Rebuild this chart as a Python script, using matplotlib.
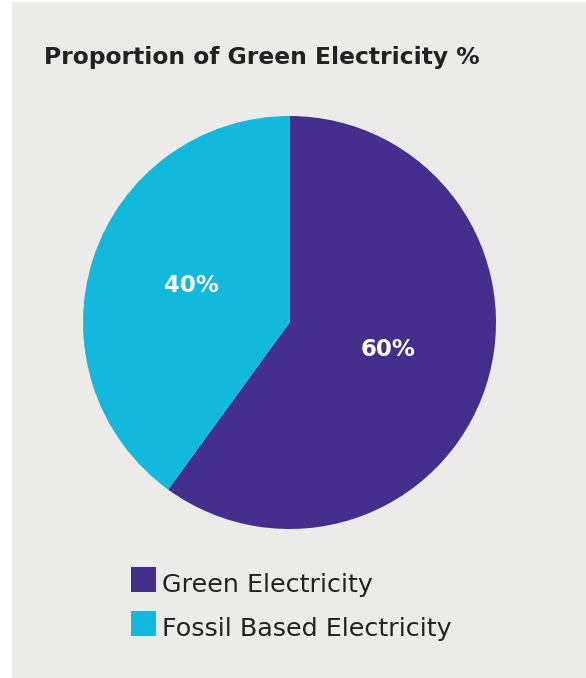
import matplotlib
matplotlib.use("Agg")
import matplotlib.pyplot as plt
from matplotlib.patches import Rectangle

categories = ["Green Electricity", "Fossil Based Electricity"]
values = [60, 40]
colors = ["#452f8c", "#12b9dc"]
title = "Proportion of Green Electricity %"

W, H = 586, 678
fig = plt.figure(figsize=(W / 100, H / 100), dpi=100, facecolor="white")
plt.rcParams['font.family'] = ['DejaVu Sans']

def fx(px):
    return px / W

def fy(py):
    return 1 - py / H

# background panel
fig.patches.append(Rectangle((fx(12), 0), 1 - fx(12), fy(2), transform=fig.transFigure,
                             facecolor="#ebebea", edgecolor="none", zorder=-5))

# title
fig.text(fx(44), fy(64), title, fontsize=16.8, fontweight="bold", color="#222222",
         ha="left", va="baseline")

# pie
cx, cy, r = 289.5, 322.5, 206.5
ax = fig.add_axes([fx(cx - r), fy(cy + r), 2 * r / W, 2 * r / H])
ax.set_zorder(2)
wedges, texts, autotexts = ax.pie(values, colors=colors, startangle=90, counterclock=False,
                                  autopct=lambda p: f"{p:.0f}%", pctdistance=0.5,
                                  wedgeprops=dict(linewidth=0),
                                  textprops=dict(color="white", fontsize=16.5, fontweight="bold"))
for t in autotexts:
    x0, y0 = t.get_position()
    t.set_va("center")
    t.set_position((x0, y0 + 0.025))
ax.set_xlim(-1, 1)
ax.set_ylim(-1, 1)
ax.set_aspect("equal")
ax.axis("off")

# legend
lx, ly0, dy, sz = 131, 567, 44, 25
for i, (lab, col) in enumerate(zip(categories, colors)):
    y = ly0 + i * dy
    fig.patches.append(Rectangle((fx(lx), fy(y + sz)), sz / W, sz / H, transform=fig.transFigure,
                                 facecolor=col, edgecolor="none", zorder=3))
    fig.text(fx(162), fy(y + 25), lab, fontsize=18.3, color="#222222",
             ha="left", va="baseline")

fig.savefig("out.png", dpi=100, facecolor="white")
